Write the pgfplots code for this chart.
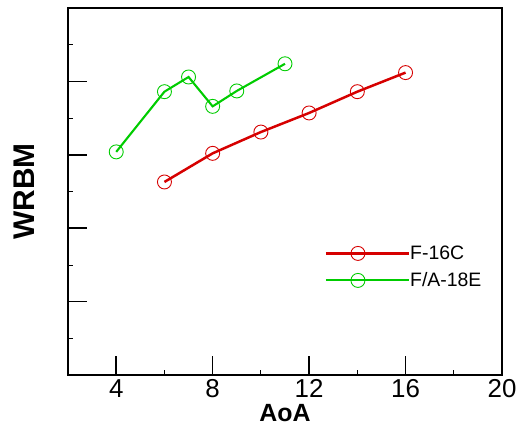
\documentclass[border=0pt]{standalone}
\usepackage{fontspec}
\setmainfont{Liberation Sans}
\usepackage{pgfplots}
\pgfplotsset{compat=1.18}
\definecolor{myred}{RGB}{214,0,0}
\definecolor{mygreen}{RGB}{0,204,0}
\begin{document}
\begin{tikzpicture}
\path[use as bounding box] (-68bp,-51bp) rectangle (449bp,375bp);
\begin{axis}[
  scale only axis,
  width=434bp, height=367bp,
  xmin=2, xmax=20, ymin=0, ymax=5,
  xtick={4,8,12,16,20},
  minor xtick={6,10,14,18},
  ytick={0,1,2,3,4,5},
  minor ytick={0.5,1.5,2.5,3.5,4.5},
  yticklabels={},
  xtick pos=bottom, ytick pos=left,
  tick align=inside,
  major tick length=19bp,
  minor tick length=5bp,
  every major tick/.style={line width=1.6pt,black},
  every minor tick/.style={line width=0.8pt,black},
  axis line style={line width=1.6pt},
  /pgf/number format/assume math mode=true,
  xticklabel style={font=\fontsize{26}{26}\selectfont, yshift=-1bp},
  xlabel={\textbf{AoA}},
  ylabel={\textbf{WRBM}},
  xlabel style={font=\fontsize{25}{25}\selectfont, at={(axis description cs:0.5,0)}, anchor=center, yshift=-38bp},
  ylabel style={font=\fontsize{30}{30}\selectfont, at={(axis description cs:-0.101,0.5)}, anchor=center},
  legend style={draw=none, fill=none, at={(axis description cs:0.591,0.355)}, anchor=north west,
    font=\fontsize{19.5}{19.5}\selectfont, inner sep=0pt, row sep=10bp,
    nodes={inner xsep=0pt, inner ysep=1bp, text height=14bp, text depth=1bp}},
  legend cell align=left,
  legend image code/.code={\draw[mark repeat=2,mark phase=2,#1] plot coordinates {(0bp,0bp) (32bp,0bp) (64bp,0bp)}; \path (64bp,0) -- (83bp,0);},
]
\addplot[color=myred, line width=2.5pt, mark=o, mark size=7bp, mark options={line width=0.9pt, solid}]
  coordinates {(6,2.63) (8,3.02) (10,3.31) (12,3.57) (14,3.86) (16,4.12)};
\addlegendentry{F-16C}
\addplot[color=mygreen, line width=2.1pt, mark=o, mark size=7bp, mark options={line width=0.9pt, solid}]
  coordinates {(4,3.04) (6,3.86) (7,4.06) (8,3.66) (9,3.87) (11,4.24)};
\addlegendentry{F/A-18E}
\end{axis}
\end{tikzpicture}
\end{document}
